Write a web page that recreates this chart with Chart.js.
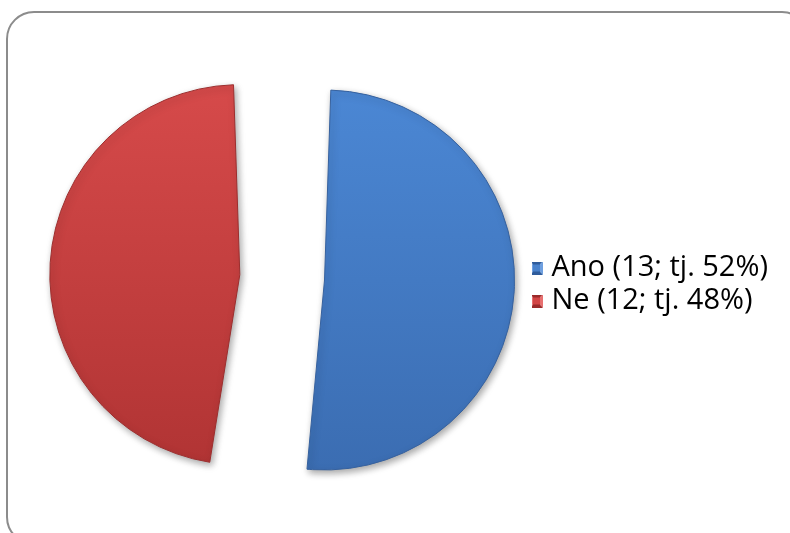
<!DOCTYPE html>
<html>
<head>
<meta charset="utf-8">
<script src="https://cdn.jsdelivr.net/npm/chart.js@4.4.1/dist/chart.umd.min.js"></script>
<style>
  html, body { margin: 0; padding: 0; background: #fff; overflow: hidden; }
  #frame {
    position: absolute; left: 6px; top: 11px;
    width: 800px; height: 530px;
    border: 2px solid #8c8c8c; border-radius: 28px;
  }
  #wrap { position: absolute; left: 0; top: 0; width: 790px; height: 533px; }
</style>
</head>
<body>
<div id="frame"></div>
<div id="wrap"><canvas id="pieChart" width="790" height="533"></canvas></div>
<script>
const categories = ['Ano', 'Ne'];
const counts     = [13, 12];
const shares     = [52, 48];

const fillTop    = ['#4b87d4', '#d64a4a'];
const fillBottom = ['#3b6db2', '#b13434'];
const edgeColors = ['#36619e', '#9c2e2e'];
const markerTones = [
  { light: '#6e9fe0', mid: '#4a82cc', dark: '#2f5c9c' },
  { light: '#e86f6f', mid: '#d24545', dark: '#9a2a2a' }
];

const labelFont = { family: '"Open Sans", sans-serif', size: 29 };
const labelPad = 4;
const legendLeft = 538;

const legendTexts = categories.map((c, i) => `${c} (${counts[i]}; tj. ${shares[i]}%)`);

// widest legend line, so the legend box can be sized to start at legendLeft
const mctx = document.createElement('canvas').getContext('2d');
mctx.font = `${labelFont.size}px ${labelFont.family}`;
const textW = Math.max(...legendTexts.map(t => mctx.measureText(t).width));
const legendW = 2 * labelPad + 1 + labelFont.size / 2 + textW;
const padRight = Math.max(0, 790 - legendLeft - legendW);

// small bevelled squares for the legend
function makeMarker(t) {
  const s = 13;
  const c = document.createElement('canvas');
  c.width = s; c.height = s;
  const g = c.getContext('2d');
  const tri = (pts, col) => {
    g.beginPath();
    g.moveTo(pts[0], pts[1]); g.lineTo(pts[2], pts[3]); g.lineTo(pts[4], pts[5]);
    g.closePath(); g.fillStyle = col; g.fill();
  };
  const m = s / 2;
  tri([0, 0, s, 0, m, m], t.dark);
  tri([0, s, s, s, m, m], t.dark);
  tri([0, 0, 0, s, m, m], t.light);
  tri([s, 0, s, s, m, m], t.light);
  g.fillStyle = t.mid;
  g.fillRect(3, 3, s - 6, s - 6);
  return c;
}
const markers = markerTones.map(makeMarker);

function sliceFill(context) {
  const chart = context.chart;
  const area = chart.chartArea;
  const i = context.dataIndex;
  if (!area) return fillTop[i];
  const cy = (area.top + area.bottom) / 2;
  const grad = chart.ctx.createLinearGradient(0, cy - 190, 0, cy + 190);
  grad.addColorStop(0, fillTop[i]);
  grad.addColorStop(1, fillBottom[i]);
  return grad;
}

const sliceShadow = {
  id: 'sliceShadow',
  beforeDatasetsDraw(chart) {
    const ctx = chart.ctx;
    ctx.save();
    ctx.shadowColor = 'rgba(0,0,0,0.35)';
    ctx.shadowBlur = 7;
    ctx.shadowOffsetX = 2;
    ctx.shadowOffsetY = 3;
  },
  afterDatasetsDraw(chart) {
    chart.ctx.restore();
  }
};

new Chart(document.getElementById('pieChart'), {
  type: 'pie',
  data: {
    labels: legendTexts,
    datasets: [{
      data: counts,
      backgroundColor: sliceFill,
      borderColor: edgeColors,
      borderWidth: 1,
      // arc offset is quartered by Chart.js and also widens the radius,
      // so the two slices get different values to end up the same size
      offset: [158.4, 181.1],
      radius: 150.4
    }]
  },
  options: {
    responsive: false,
    animation: false,
    events: [],
    layout: { padding: { left: 38, right: padRight, top: 30, bottom: 8 } },
    plugins: {
      tooltip: { enabled: false },
      legend: {
        position: 'right',
        title: { display: true, text: ' ', font: { size: 10 }, padding: 1 },
        labels: {
          usePointStyle: true,
          generateLabels(chart) {
            return chart.data.labels.map((text, i) => ({
              text,
              fillStyle: fillTop[i],
              strokeStyle: fillTop[i],
              lineWidth: 0,
              pointStyle: markers[i],
              fontColor: '#000',
              index: i,
              hidden: false
            }));
          },
          boxWidth: 1,
          padding: labelPad,
          color: '#000',
          font: labelFont
        }
      }
    }
  },
  plugins: [sliceShadow]
});
</script>
</body>
</html>
